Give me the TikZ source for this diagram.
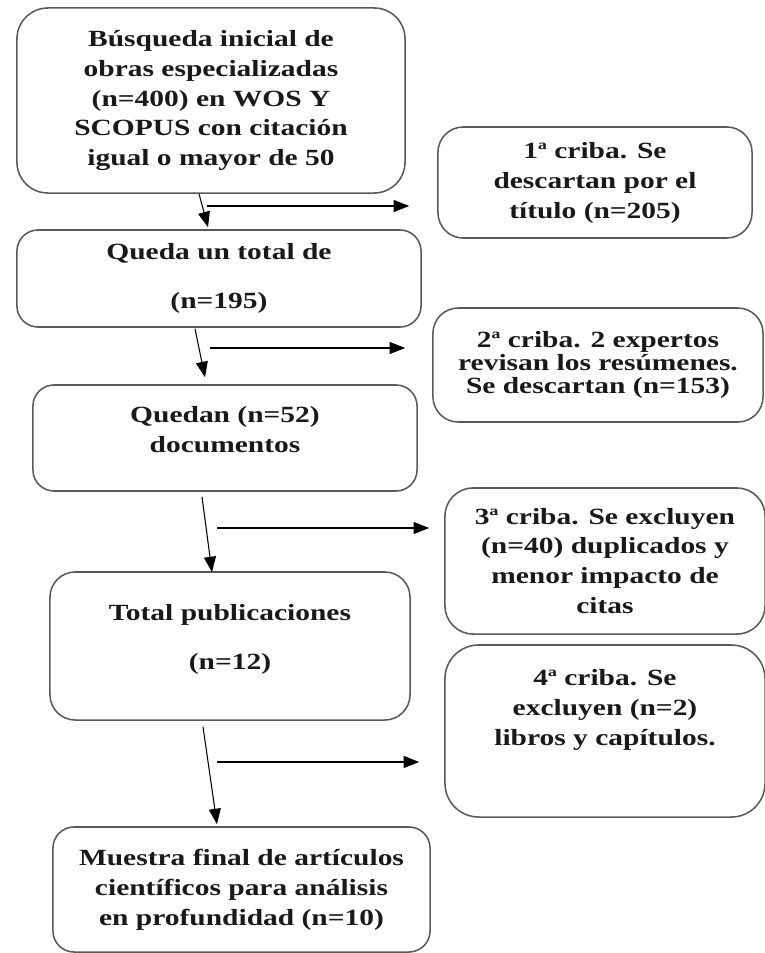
\documentclass[tikz,border=0pt]{standalone}
\usepackage{fontspec}
\setmainfont{Liberation Serif}[FakeStretch=1.27]
\usetikzlibrary{calc, positioning, arrows.meta}

\newcommand{\padbelow}[1]{\\[#1]\mbox{}}

\begin{document}
\begin{tikzpicture}[x=0.025cm, y=-0.025cm,
        caja/.style={draw=black!65, line width=1.1pt, rounded corners=15pt, align=center, inner sep=0pt,
            font=\bfseries\fontsize{16.5}{21.3}\selectfont, text=black!90},
        flecha/.style={-{Triangle[length=11pt, width=8.5pt]}, line width=0.75pt}]
            \useasboundingbox (0,0) rectangle (764,953);
            \node [caja, rounded corners=22pt, minimum width=9.7cm, minimum height=4.625cm] (b1) at (211,100.5)
                {Búsqueda inicial de\\obras especializadas\\(n=400) en WOS Y\\SCOPUS con citación\\igual o mayor de 50};
            \node [caja, rounded corners=18pt, minimum width=7.85cm, minimum height=2.775cm] (c1) at (595,182.5)
                {1ª criba. Se\\descartan por el\\título (n=205)};
            \node [caja, minimum width=10.1cm, minimum height=2.425cm] (b2) at (219,278.5)
                {Queda un total de\\[13.6pt](n=195)};
            \node [caja, rounded corners=18pt, minimum width=8.25cm, minimum height=2.85cm,
                font=\bfseries\fontsize{16.5}{16.6}\selectfont] (c2) at (598,365)
                {2ª criba. 2 expertos\\revisan los resúmenes.\\Se descartan (n=153)};
            \node [caja, minimum width=9.6cm, minimum height=2.65cm] (b3) at (225,438)
                {Quedan (n=52)\\documentos\padbelow{-8.5pt}};
            \node [caja, rounded corners=20pt, minimum width=8cm, minimum height=3.65cm] (c3) at (605,561)
                {3ª criba. Se excluyen\\(n=40) duplicados y\\menor impacto de\\citas};
            \node [caja, rounded corners=18pt, minimum width=9cm, minimum height=3.7cm] (b4) at (230,646)
                {Total publicaciones\\[13.6pt](n=12)\padbelow{-8.5pt}};
            \node [caja, rounded corners=24pt, minimum width=8cm, minimum height=4.3cm] (c4) at (605,731)
                {4ª criba. Se\\excluyen (n=2)\\libros y capítulos.\padbelow{12.8pt}};
            \node [caja, minimum width=9.425cm, minimum height=3.125cm] (b5) at (241.5,889.5)
                {Muestra final de artículos\\científicos para análisis\\en profundidad (n=10)};

            \draw [flecha] ($(b1.south)+(-12,0)$) -- ($(b2.north)+(-11,-2)$);
            \draw [flecha] ($(b2.south)+(-24,1)$) -- ($(b3.north)+(-20,-7)$);
            \draw [flecha] ($(b3.south)+(-23,5)$) -- ($(b4.north)+(-18,1)$);
            \draw [flecha] ($(b4.south)+(-27,6)$) -- ($(b5.north)+(-24.5,-2)$);

            \coordinate (d1) at (207,206);
            \coordinate (d2) at (210,348);
            \coordinate (d3) at (217,528);
            \coordinate (d4) at (217,762);
            \draw [flecha] (d1) -- ($(d1 -| c1.west)+(-28,0)$);
            \draw [flecha] (d2) -- ($(d2 -| c2.west)+(-27,0)$);
            \draw [flecha] (d3) -- ($(d3 -| c3.west)+(-15,0)$);
            \draw [flecha] (d4) -- ($(d4 -| c4.west)+(-25,0)$);
        \end{tikzpicture}
\end{document}
